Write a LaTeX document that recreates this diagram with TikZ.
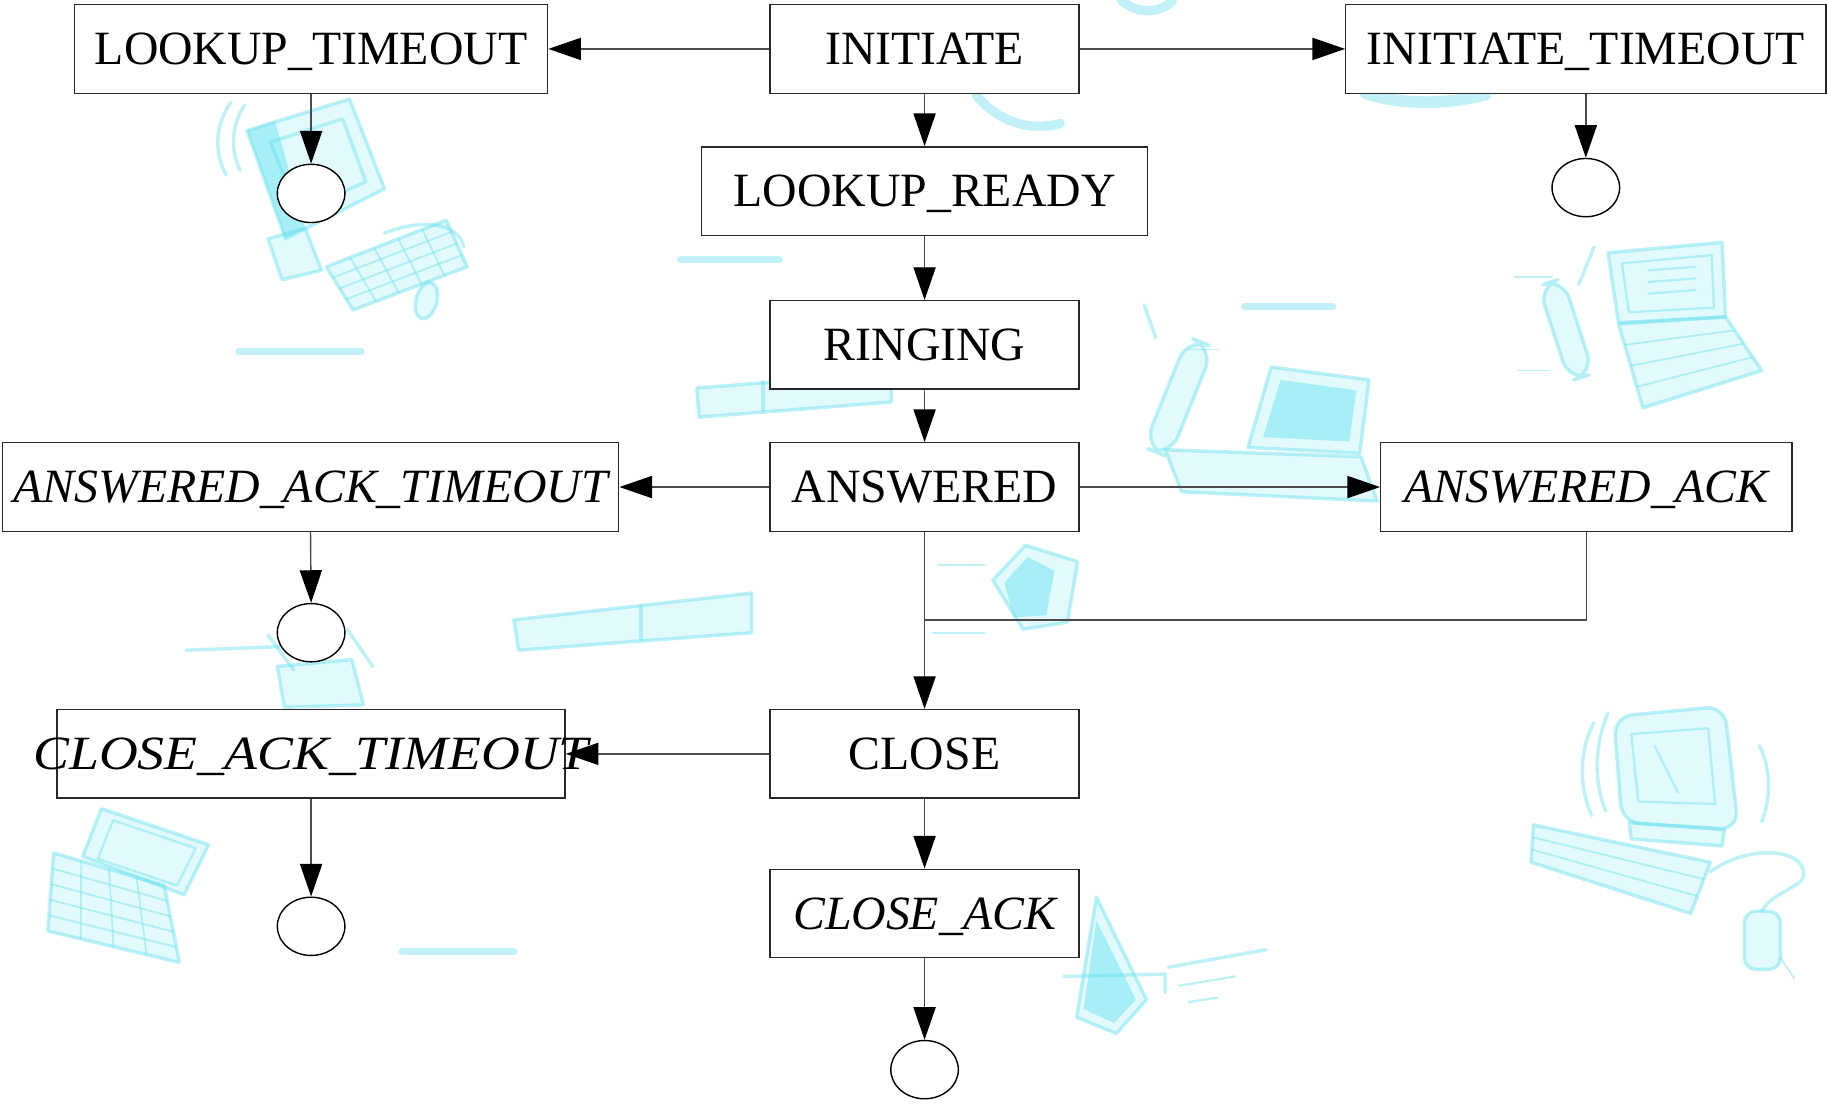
\documentclass[tikz,border=0pt]{standalone}
\usepackage{fontspec}
\usepackage{graphicx}
\setmainfont{Liberation Serif}
\usetikzlibrary{arrows.meta,shapes.geometric,calc}

\definecolor{edgegray}{RGB}{75,75,75}
\definecolor{boxline}{RGB}{40,40,40}
\definecolor{artline}{RGB}{95,222,235}
\definecolor{artfill}{RGB}{150,238,246}
\definecolor{artdeep}{RGB}{110,228,240}

\tikzset{
  state/.style={draw=boxline, line width=0.6pt, fill=white, minimum height=38pt,
    inner sep=0pt, font=\fontsize{20.5}{24}\selectfont, text height=13.6pt, text depth=0pt},
  final/.style={ellipse, draw=black, fill=white, line width=0.6pt,
    minimum width=29pt, minimum height=25pt, inner sep=0pt},
  flow/.style={draw=edgegray, line width=0.6pt,
    -{Triangle[length=14pt,width=9.5pt,color=black,fill=black]}},
  link/.style={draw=edgegray, line width=0.6pt},
  art/.style={draw=artline, fill=artfill, draw opacity=0.42, fill opacity=0.28,
    line width=1.5pt, line join=round, line cap=round},
  artline/.style={draw=artline, draw opacity=0.4, line width=1.5pt, line cap=round, line join=round},
  artdeep/.style={fill=artdeep, fill opacity=0.5, draw=none},
  stroke/.style={draw=artline, draw opacity=0.38, line width=3pt, line cap=round},
}

\begin{document}
\begin{tikzpicture}[x=0.5pt, y=-0.5pt]
\useasboundingbox (0,0) rectangle (1568,947);

% ---------- pale clip-art in the background ----------
% desktop computer, upper left
\draw[artline] (198,88) .. controls (184,108) and (184,132) .. (194,150);
\draw[artline] (210,90) .. controls (198,108) and (198,130) .. (206,146);
\draw[art] (212,112) -- (300,85) -- (330,162) -- (245,205) -- cycle;
\fill[artdeep] (212,112) -- (236,104) -- (262,196) -- (245,205) -- cycle;
\draw[artline] (232,122) -- (294,102) -- (314,156) -- (256,182) -- cycle;
\draw[art] (230,205) -- (262,196) -- (276,232) -- (242,240) -- cycle;
\draw[art] (280,229) -- (383,189) -- (401,229) -- (303,266) -- cycle;
\foreach \t in {0.25,0.5,0.75}
  \draw[artline, line width=0.8pt] ($(280,229)!\t!(303,266)$) -- ($(383,189)!\t!(401,229)$);
\foreach \t in {0.2,0.4,0.6,0.8}
  \draw[artline, line width=0.8pt] ($(280,229)!\t!(383,189)$) -- ($(303,266)!\t!(401,229)$);
\draw[artline] (330,200) .. controls (370,185) and (395,195) .. (398,212);
\draw[art, rotate around={-15:(366,258)}] (366,258) ellipse (9 and 16);
\draw[stroke] (205,302) -- (310,302);

% handset shape near the top
\draw[stroke, line width=4pt] (838,82) .. controls (860,108) and (888,112) .. (910,106);
\draw[stroke, line width=4pt] (962,0) .. controls (975,12) and (995,12) .. (1006,1);
\draw[stroke, line width=5pt] (1172,80) .. controls (1200,90) and (1245,90) .. (1275,81);
\draw[stroke] (584,223) -- (669,223);

% laptop and cordless phone, right
\draw[art] (1380,217) -- (1478,208) -- (1481,272) -- (1389,277) -- cycle;
\draw[artline, line width=1pt] (1392,226) -- (1469,219) -- (1471,264) -- (1398,268) -- cycle;
\foreach \yy in {232,242,252}
  \draw[artline, line width=1pt] (1415,\yy) -- (1455,\yy-3);
\draw[art] (1389,278) -- (1481,272) -- (1512,318) -- (1410,350) -- cycle;
\foreach \t in {0.25,0.5,0.75}
  \draw[artline, line width=0.8pt] ($(1389,278)!\t!(1410,350)$) -- ($(1481,272)!\t!(1512,318)$);
\draw[art, rounded corners=9, rotate around={18:(1344,283)}] (1333,240) rectangle (1355,326);
\draw[artline] (1355,244) -- (1368,212);
\draw[artline, line width=0.8pt] (1300,238) -- (1332,238);
\draw[artline, line width=0.8pt] (1302,318) -- (1330,318);
\draw[stroke] (1068,263) -- (1144,263);

% laptop and cordless phone, centre right
\draw[art] (1091,315) -- (1175,326) -- (1167,389) -- (1071,384) -- cycle;
\fill[artdeep] (1099,326) -- (1164,335) -- (1158,379) -- (1084,375) -- cycle;
\draw[art] (1000,386) -- (1168,392) -- (1182,430) -- (1014,422) -- cycle;
\draw[art, rounded corners=10, rotate around={-22:(1012,340)}] (1000,290) rectangle (1024,392);
\draw[artline] (992,290) -- (982,262);
\draw[artline, line width=0.8pt] (1020,300) -- (1046,300);

% trays on the left
\draw[art] (598,333) -- (765,320) -- (765,345) -- (600,358) -- cycle;
\draw[artline] (655,328) -- (655,352);
\draw[art] (441,532) -- (645,509) -- (645,543) -- (445,558) -- cycle;
\draw[artline] (550,520) -- (550,549);

% small objects in the middle
\draw[art] (852,498) -- (880,468) -- (925,482) -- (916,534) -- (878,540) -- cycle;
\fill[artdeep] (862,500) -- (882,478) -- (905,490) -- (898,528) -- (870,530) -- cycle;
\draw[artline, line width=0.8pt] (805,485) -- (845,485);
\draw[artline, line width=0.8pt] (800,543) -- (845,543);

% figure below the upper left circle
\draw[artline] (160,558) -- (240,555);
\draw[art] (238,572) -- (302,566) -- (312,605) -- (244,607) -- cycle;
\draw[artline] (230,545) -- (252,575);
\draw[artline] (298,540) -- (320,572);

% laptop, lower left
\draw[art] (87,694) -- (179,725) -- (158,768) -- (71,735) -- cycle;
\draw[artline, line width=1pt] (97,704) -- (168,728) -- (152,760) -- (84,737) -- cycle;
\draw[art] (46,732) -- (141,760) -- (154,826) -- (41,799) -- cycle;
\foreach \t in {0.2,0.4,0.6,0.8}
  \draw[artline, line width=0.8pt] ($(46,732)!\t!(41,799)$) -- ($(141,760)!\t!(154,826)$);
\foreach \t in {0.25,0.5,0.75}
  \draw[artline, line width=0.8pt] ($(46,732)!\t!(141,760)$) -- ($(41,799)!\t!(154,826)$);
\draw[stroke] (345,817) -- (441,817);

% cone-shaped object near the bottom
\draw[art] (941,770) -- (984,858) -- (958,887) -- (924,873) -- cycle;
\fill[artdeep] (941,790) -- (975,858) -- (956,878) -- (930,866) -- cycle;
\draw[artline] (913,838) -- (1000,836) -- (1000,852);
\draw[artline] (1003,830) -- (1087,815);
\draw[artline, line width=1pt] (1012,846) -- (1060,838);
\draw[artline, line width=1pt] (1020,860) -- (1045,856);

% desktop computer, lower right
\draw[artline] (1368,620) .. controls (1355,645) and (1355,675) .. (1366,700);
\draw[artline] (1380,612) .. controls (1368,640) and (1368,672) .. (1378,696);
\draw[artline] (1510,640) .. controls (1520,660) and (1520,685) .. (1512,705);
\draw[art, rounded corners=8] (1385,615) -- (1480,606) -- (1492,712) -- (1392,706) -- cycle;
\draw[artline, line width=1pt] (1400,630) -- (1466,625) -- (1472,690) -- (1406,688) -- cycle;
\draw[artline, line width=1pt] (1420,640) -- (1440,680);
\draw[art] (1398,706) -- (1480,712) -- (1478,726) -- (1400,720) -- cycle;
\draw[art] (1316,708) -- (1468,740) -- (1451,784) -- (1314,740) -- cycle;
\foreach \t in {0.33,0.66}
  \draw[artline, line width=0.8pt] ($(1316,708)!\t!(1314,740)$) -- ($(1468,740)!\t!(1451,784)$);
\draw[artline] (1468,748) .. controls (1500,725) and (1545,728) .. (1548,748)
  .. controls (1550,762) and (1522,764) .. (1512,782);
\draw[art, rounded corners=5] (1497,782) rectangle (1528,832);
\draw[artline, line width=0.8pt] (1528,822) -- (1540,840);

% ---------- state diagram ----------
\node[state, minimum width=132.5pt] (initiate) at (793.5,42) {INITIATE};
\node[state, minimum width=203pt] (lookupTimeout) at (267,42) {LOOKUP\_TIMEOUT};
\node[state, minimum width=206pt] (initiateTimeout) at (1361,42) {INITIATE\_TIMEOUT};
\node[state, minimum width=191.5pt] (lookupReady) at (793.5,164) {LOOKUP\_READY};
\node[state, minimum width=132.5pt] (ringing) at (793.5,296) {RINGING};
\node[state, minimum width=132.5pt] (answered) at (793.5,418) {ANSWERED};
\node[state, minimum width=264.5pt] (answeredAckTimeout) at (266.5,418) {\itshape ANSWERED\_ACK\_TIMEOUT};
\node[state, minimum width=176.5pt] (answeredAck) at (1361.5,418) {\itshape ANSWERED\_ACK};
\node[state, minimum width=132.5pt] (close) at (793.5,647) {CLOSE};
\node[state, minimum width=218pt] (closeAckTimeout) at (267,647)
  {\makebox[0pt]{\scalebox{1.125}[1]{\itshape CLOSE\_ACK\_TIMEOUT}}};
\node[state, minimum width=132.5pt] (closeAck) at (793.5,784) {\itshape CLOSE\_ACK};

\node[final] (endLookup) at (267,166) {};
\node[final] (endInitiate) at (1361,161) {};
\node[final] (endAnswered) at (267,543) {};
\node[final] (endCloseTimeout) at (267,795) {};
\node[final] (endClose) at (793.5,918) {};

\coordinate (merge) at (793.5,532);

\draw[flow] (initiate.west) -- (lookupTimeout.east);
\draw[flow] (initiate.east) -- (initiateTimeout.west);
\draw[flow] (initiate.south) -- (lookupReady.north);
\draw[flow] (lookupReady.south) -- (ringing.north);
\draw[flow] (ringing.south) -- (answered.north);
\draw[flow] (lookupTimeout.south) -- (endLookup.north);
\draw[flow] (initiateTimeout.south) -- (endInitiate.north);
\draw[flow] (answered.west) -- (answeredAckTimeout.east);
\draw[flow] (answered.east) -- (answeredAck.west);
\draw[flow] (answeredAckTimeout.south) -- (endAnswered.north);
\draw[flow] (answered.south) -- (close.north);
\draw[link] (answeredAck.south) |- (merge);
\draw[flow] (close.west) -- (closeAckTimeout.east);
\draw[flow] (closeAckTimeout.south) -- (endCloseTimeout.north);
\draw[flow] (close.south) -- (closeAck.north);
\draw[flow] (closeAck.south) -- (endClose.north);
\end{tikzpicture}
\end{document}
